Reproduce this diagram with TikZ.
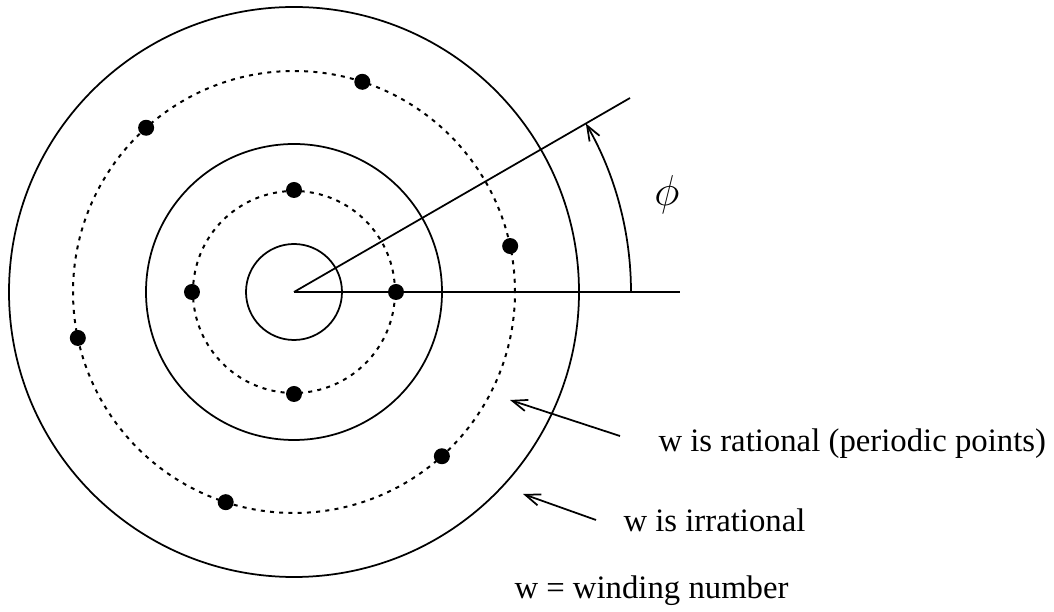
\documentclass[tikz,border=0pt]{standalone}
\usepackage{fontspec}
\setmainfont{Liberation Serif}
\usetikzlibrary{arrows.meta}

\begin{document}
\begin{tikzpicture}[
                x=0.4pt, y=0.4pt,
                ring/.style={line width=0.7pt},
                orbit/.style={line width=0.8pt, dash pattern=on 1.6pt off 2.1pt},
                dot/.style={circle, fill, inner sep=0pt, minimum size=6.4pt},
                tag/.style={anchor=base west, inner sep=0pt, font=\fontsize{13.1}{15}\selectfont},
                pointer/.style={line width=0.7pt, -{Straight Barb[length=6pt, width=4.6pt]}}
            ]
            \useasboundingbox (-294, -320) rectangle (760, 292);

            \coordinate (o) at (0, 0);
            \draw[ring] (o) circle[radius=48];
            \draw[ring] (o) circle[radius=148];
            \draw[ring] (o) circle[radius=285];
            \draw[orbit] (o) circle[radius=101];
            \draw[orbit] (o) circle[radius=221];

            \foreach \i in {0, 1, 2, 3} {
                \node[dot] (in\i) at (90*\i:102) {};
            }
            \foreach \i in {0, ..., 5} {
                \node[dot] (out\i) at (12+60*\i:221) {};
            }

            \coordinate (h) at (386, 0);
            \coordinate (r) at (30:388);
            \draw[ring] (o) -- (h);
            \draw[ring] (o) -- (r);
            \draw[pointer] (0:337) arc[start angle=0, end angle=30, radius=337];
            \node[font=\fontsize{17}{20}\selectfont] (phi) at (373, 97) {$\phi$};

            \node[tag] (rat) at (364, -160) {w is rational (periodic points)};
            \coordinate (ratfrom) at (326, -144);
            \coordinate (ratend) at (216, -108);
            \draw[pointer] (ratfrom) -- (ratend);

            \node[tag] (irr) at (329, -240) {w is irrational};
            \coordinate (irrfrom) at (302, -228);
            \coordinate (irrend) at (229, -202);
            \draw[pointer] (irrfrom) -- (irrend);

            \node[tag] (wn) at (220, -307) {w = winding number};
        \end{tikzpicture}
\end{document}
